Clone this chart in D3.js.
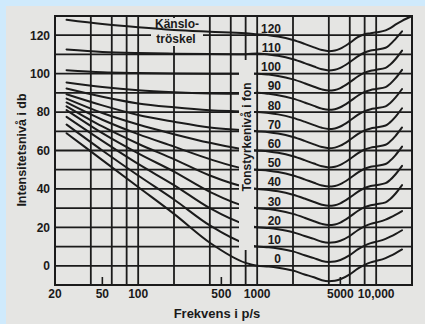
<!DOCTYPE html>
<html>
<head>
<meta charset="utf-8">
<script src="https://cdn.jsdelivr.net/npm/d3@7"></script>
<style>
  html, body { margin: 0; padding: 0; background: #cfeafc; }
  svg { display: block; }
  text { font-family: "Liberation Sans", Arial, Helvetica, sans-serif; font-weight: bold; fill: #1a1a1a; }
</style>
</head>
<body>
<script>
// Equal-loudness contours (phon): sound pressure level in dB against frequency.
const freqs = [25, 50, 100, 200, 400, 800,
  1000, 1250, 1500, 2000, 2500, 3000, 3500, 4000, 4500, 5000, 6000, 7000, 8000, 9000, 10000, 12000, 13000, 14500, 16500,
  20000];

const phons = [0, 10, 20, 30, 40, 50, 60, 70, 80, 90, 100, 110, 120];

const level0   = [69, 55, 41, 27, 12, 1.5,
  0, -0.4, -1, -2.5, -4.5, -6, -7.5, -8, -7.8, -7, -4.5, -1.5, 0.5, 1.8, 2.5, 4, 5, 6.5, 8.5, null];
const level10  = [73.5, 60, 47, 34.5, 21, 11.5,
  10, 9.6, 9, 7.5, 5.5, 4, 2.5, 2, 2.2, 3, 5.5, 8.5, 10.5, 11.8, 12.5, 14, 15, 16.5, 18.5, null];
const level20  = [77.5, 65, 53, 42, 30, 21.5,
  20, 19.6, 19, 17.5, 15.5, 14, 12.5, 12, 12.2, 13, 15.5, 18.5, 20.5, 21.8, 22.5, 24, 25, 26.5, 28.5, null];
const level30  = [81, 69, 58.5, 49, 38.5, 31,
  30, 29.5, 28.8, 27, 25, 23.2, 21.8, 21.2, 21.5, 22.5, 25.5, 28.5, 30.5, 31.5, 32, 33, 34.5, 37.5, 42, null];
const level40  = [83, 72.5, 63.5, 55.5, 47, 41,
  40, 39.5, 38.8, 37, 35, 33.2, 31.8, 31.2, 31.5, 32.5, 35.5, 38.5, 40.5, 41.5, 42, 43, 44.5, 47.5, 52, null];
const level50  = [85, 76, 68.5, 62, 55.5, 50.5,
  50, 49.5, 48.8, 47, 45, 43.2, 41.8, 41.2, 41.5, 42.5, 45.5, 48.5, 50.5, 51.5, 52, 53, 54.5, 57.5, 62, null];
const level60  = [87, 79.5, 73.5, 68.5, 64, 60.5,
  60, 59.5, 58.8, 57, 55, 53.2, 51.8, 51.2, 51.5, 52.5, 55.5, 58.5, 60.5, 61.5, 62, 63, 64.5, 67.5, 72, null];
const level70  = [89.3, 83.5, 78.5, 75, 72, 70.5,
  70, 69.5, 68.8, 67, 65, 63.2, 61.8, 61.2, 61.5, 62.5, 65.5, 68.5, 70.5, 71.5, 72, 73, 74.5, 77.5, 82, null];
const level80  = [92.3, 88, 84.5, 82.5, 81, 80.3,
  80, 79.5, 78.8, 77, 75, 73.2, 71.8, 71.2, 71.5, 72.5, 75.5, 78.5, 80.5, 81.5, 82, 83, 84.5, 87.5, 92, null];
const level90  = [95.4, 93, 91.3, 90.3, 89.7, 89.5,
  90, 89.5, 88.8, 87, 85, 83.2, 81.8, 81.2, 81.5, 82.5, 85.5, 88.5, 90.5, 91.5, 92, 93, 94.5, 97.5, 102, null];
const level100 = [101.8, 100.7, 100.3, 100.1, 100, 100,
  100, 99.5, 98.8, 97, 95, 93.2, 91.8, 91.2, 91.5, 92.5, 95.5, 98.5, 100.5, 101.5, 102, 103, 104.5, 107.5, 112, null];
const level110 = [112.6, 111.3, 110.7, 110.4, 110.2, 110.1,
  110.5, 110, 109.3, 107.5, 105.5, 103.7, 102.3, 101.7, 102, 103, 106, 109, 111, 112, 112.5, 113.5, 115, 118, 122, null];
const level120 = [128, 125.8, 124.1, 122.7, 121.8, 121,
  120.5, 120, 119.3, 117.5, 115.5, 113.7, 112.3, 111.7, 112, 113, 116, 119, 120.5, 121, 121.5, 122.5, 123.5, 125.5, 127.5, 130];

const levels = [level0, level10, level20, level30, level40, level50, level60,
  level70, level80, level90, level100, level110, level120];

// Axis ticks and grid
const xTickValues = [20, 50, 100, 500, 1000, 5000, 10000];
const xTickLabels = ["20", "50", "100", "500", "1000", "5000", "10,000"];
const xGridValues = [40, 60, 80, 100, 200, 400, 600, 800, 1000, 2000, 4000, 6000, 8000, 10000];
const xMinorTicks = [50, 500, 5000];
const yTickValues = [0, 20, 40, 60, 80, 100, 120];
const yGridValues = [0, 10, 20, 30, 40, 50, 60, 70, 80, 90, 100, 110, 120];

const W = 425, H = 324;
const plot = { left: 55, right: 412, top: 16, bottom: 285 };
const paperColor = "#e5e5e3";
const ink = "#1b1b1b";

const svg = d3.select("body").append("svg").attr("width", W).attr("height", H);

svg.append("rect").attr("x", 0).attr("y", 0).attr("width", W).attr("height", H).attr("fill", "#cfeafc");
svg.append("rect").attr("x", 6).attr("y", 6).attr("width", W - 6).attr("height", H - 6).attr("fill", paperColor);

const x = d3.scaleLog().domain([20, 20000]).range([plot.left, plot.right]);
const y = d3.scaleLinear().domain([-10, 130]).range([plot.bottom, plot.top]);

const g = svg.append("g");

// grid
g.selectAll("line.vg").data(xGridValues).join("line")
  .attr("x1", d => x(d)).attr("x2", d => x(d))
  .attr("y1", plot.top).attr("y2", plot.bottom)
  .attr("stroke", ink).attr("stroke-width", 1.8);

g.selectAll("line.hg").data(yGridValues).join("line")
  .attr("x1", plot.left).attr("x2", plot.right)
  .attr("y1", d => y(d)).attr("y2", d => y(d))
  .attr("stroke", ink).attr("stroke-width", 1.8);

// frame
g.append("rect")
  .attr("x", plot.left).attr("y", plot.top)
  .attr("width", plot.right - plot.left).attr("height", plot.bottom - plot.top)
  .attr("fill", "none").attr("stroke", ink).attr("stroke-width", 2);

// minor ticks on the bottom edge
g.selectAll("line.mt").data(xMinorTicks).join("line")
  .attr("x1", d => x(d)).attr("x2", d => x(d))
  .attr("y1", plot.bottom - 8).attr("y2", plot.bottom)
  .attr("stroke", ink).attr("stroke-width", 1.6);

// label box for the threshold of feeling (hides grid underneath)
g.append("rect").attr("x", 151).attr("y", 18).attr("width", 52).attr("height", 28).attr("fill", paperColor);

// contours
const line = d3.line()
  .defined(d => d[1] !== null)
  .x(d => x(d[0])).y(d => y(d[1]))
  .curve(d3.curveMonotoneX);

g.selectAll("path.contour").data(levels).join("path")
  .attr("d", row => line(freqs.map((f, i) => [f, row[i]])))
  .attr("fill", "none").attr("stroke", ink).attr("stroke-width", 2)
  .attr("stroke-linecap", "round");

// vertical caption column for loudness level
g.append("rect").attr("x", 239).attr("y", 60).attr("width", 15).attr("height", 190).attr("fill", paperColor);
g.append("text")
  .attr("transform", "translate(251,137) rotate(-90)")
  .attr("text-anchor", "middle").attr("font-size", 12)
  .text("Tonstyrkenivå i fon");

g.append("text").attr("x", 177).attr("y", 28).attr("text-anchor", "middle").attr("font-size", 12).text("Känslo-");
g.append("text").attr("x", 176).attr("y", 43).attr("text-anchor", "middle").attr("font-size", 12).text("tröskel");

// phon labels
g.selectAll("text.phon").data(phons).join("text")
  .attr("x", 281).attr("y", d => y(d) - 2.5)
  .attr("text-anchor", "end").attr("font-size", 12)
  .text(d => d);

// y axis labels
g.selectAll("text.yt").data(yTickValues).join("text")
  .attr("x", 50).attr("y", d => y(d)).attr("dy", "0.36em")
  .attr("text-anchor", "end").attr("font-size", 12)
  .text(d => d);

// x axis labels
g.selectAll("text.xt").data(xTickValues).join("text")
  .attr("x", d => x(d)).attr("y", 298)
  .attr("text-anchor", "middle").attr("font-size", 12)
  .text((d, i) => xTickLabels[i]);

// axis titles
svg.append("text").attr("x", 217).attr("y", 318).attr("text-anchor", "middle").attr("font-size", 13)
  .text("Frekvens i p/s");
svg.append("text").attr("transform", "translate(26,150) rotate(-90)")
  .attr("text-anchor", "middle").attr("font-size", 12.5)
  .text("Intensitetsnivå i db");
</script>
</body>
</html>
